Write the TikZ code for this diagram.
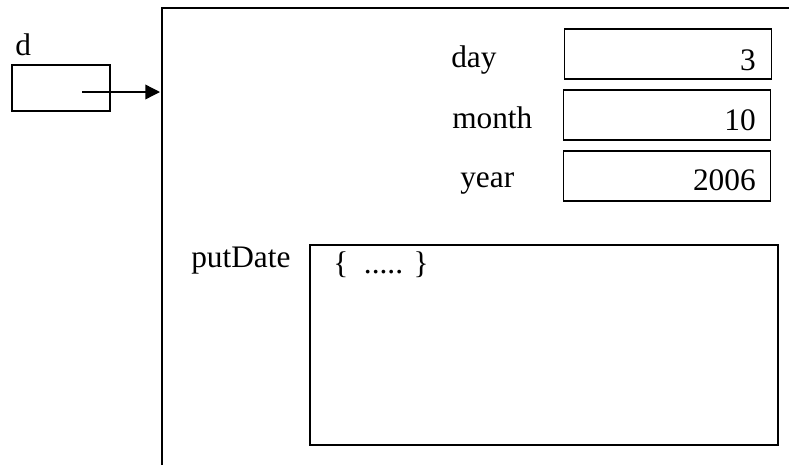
\documentclass[tikz,border=0pt]{standalone}
\usepackage{fontspec}
\setmainfont{Liberation Serif}
\usetikzlibrary{arrows.meta}
\begin{document}
\begin{tikzpicture}[
    x=0.75pt, y=-0.75pt,
    font=\fontsize{23.5}{28}\selectfont,
    field/.style={rectangle, draw=black, line width=1.2pt, minimum width=155pt, minimum height=37.5pt},
    label/.style={inner sep=0pt, anchor=base west},
    value/.style={inner sep=0pt, anchor=base east}
]
    \useasboundingbox (0,0) rectangle (789,465);

    % reference variable
    \node[label] at (15,55) (dname) {d};
    \node[rectangle, draw=black, line width=1.2pt, minimum width=73.5pt, minimum height=34.5pt] at (61,88) (dbox) {};

    % object
    \coordinate (otop) at (162,8);
    \coordinate (obot) at (162,465);
    \coordinate (oright) at (789,8);
    \draw[line width=1.5pt] (obot) -- (otop) -- (oright);

    \node[field] at (668,54) (dayv) {};
    \node[field] at (667,115) (monthv) {};
    \node[field] at (667,176) (yearv) {};
    \node[value] at (756,70) {3};
    \node[value] at (756,130) {10};
    \node[value] at (756,190) {2006};
    \node[label] at (451,67) (day) {day};
    \node[label] at (452,128) (month) {month};
    \node[label] at (460,187) (year) {year};

    \node[rectangle, draw=black, line width=1.5pt, minimum width=351pt, minimum height=150pt] at (544,345) (body) {};
    \node[label] at (333,273) (code) {\{ \ ..... \}};
    \node[label] at (191,267) (putDate) {putDate};

    \coordinate (dref) at (82,92);
    \coordinate (obj) at (160,92);
    \draw[-{Triangle[length=11pt, width=11pt]}, line width=1pt] (dref) -- (obj);
\end{tikzpicture}
\end{document}
